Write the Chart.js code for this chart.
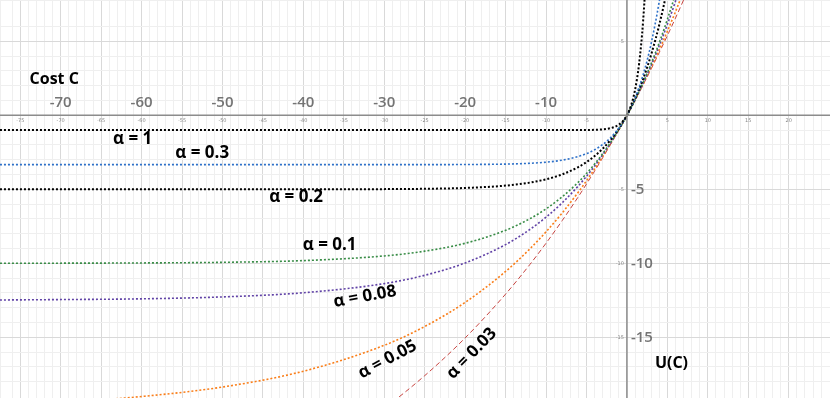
<!DOCTYPE html>
<html>
<head>
<meta charset="utf-8">
<script src="https://cdn.jsdelivr.net/npm/chart.js@4.4.0/dist/chart.umd.min.js"></script>
<style>
  html, body { margin: 0; padding: 0; background: #fff; }
  #wrap { width: 830px; height: 398px; }
</style>
</head>
<body>
<div id="wrap"><canvas id="myChart" width="830" height="398"></canvas></div>
<script>
// cost values (x) shared by every curve
var cost = [-78, -70, -60, -50, -40, -30, -25, -20, -15, -12, -10, -8, -6, -5, -4, -3, -2, -1.5, -1, -0.5, 0, 0.5, 1, 1.5, 2, 2.5, 3, 4, 5, 6, 7, 8];

// U(C) for each alpha
var uAlpha1 = [-1, -1, -1, -1, -1, -1, -1, -1, -1, -1, -1, -1, -0.998, -0.993, -0.982, -0.95, -0.865, -0.777, -0.632, -0.393, 0, 0.649, 1.718, 3.482, 6.389, 11.18, 19.09, null, null, null, null, null];
var uAlpha03 = [-3.333, -3.333, -3.333, -3.333, -3.333, -3.333, -3.332, -3.325, -3.296, -3.242, -3.167, -3.031, -2.782, -2.59, -2.329, -1.978, -1.504, -1.208, -0.864, -0.464, 0, 0.539, 1.166, 1.894, 2.74, 3.723, 4.865, 7.734, 11.61, 16.83, null, null];
var uAlpha02 = [-5, -5, -5, -5, -4.998, -4.988, -4.966, -4.908, -4.751, -4.546, -4.323, -3.991, -3.494, -3.161, -2.753, -2.256, -1.648, -1.296, -0.906, -0.476, 0, 0.526, 1.107, 1.749, 2.459, 3.244, 4.111, 6.128, 8.591, 11.6, null, null];
var uAlpha01 = [-9.996, -9.991, -9.975, -9.933, -9.817, -9.502, -9.179, -8.647, -7.769, -6.988, -6.321, -5.507, -4.512, -3.935, -3.297, -2.592, -1.813, -1.393, -0.952, -0.488, 0, 0.513, 1.052, 1.618, 2.214, 2.84, 3.499, 4.918, 6.487, 8.221, 10.14, null];
var uAlpha008 = [-12.48, -12.45, -12.4, -12.27, -11.99, -11.37, -10.81, -9.976, -8.735, -7.714, -6.884, -5.909, -4.765, -4.121, -3.424, -2.667, -1.849, -1.414, -0.961, -0.49, 0, 0.51, 1.041, 1.594, 2.169, 2.768, 3.39, 4.714, 6.148, 7.701, 9.384, null];
var uAlpha005 = [-19.6, -19.4, -19.0, -18.36, -17.29, -15.54, -14.27, -12.64, -10.55, -9.024, -7.869, -6.594, -5.184, -4.424, -3.625, -2.786, -1.903, -1.445, -0.975, -0.494, 0, 0.506, 1.025, 1.558, 2.103, 2.662, 3.237, 4.428, 5.681, 6.997, 8.382, null];
var uAlpha003 = [-30.12, -29.25, -27.82, -25.9, -23.29, -19.78, -17.59, -15.04, -12.08, -10.08, -8.64, -7.11, -5.49, -4.64, -3.77, -2.87, -1.94, -1.47, -0.99, -0.5, 0, 0.5, 1.02, 1.53, 2.06, 2.6, 3.14, 4.25, 5.39, 6.57, 7.79, 9.04];

// small axis numbers and the big overlaid ones
var xTickSmall = [-75, -70, -65, -60, -55, -50, -45, -40, -35, -30, -25, -20, -15, -10, -5, 5, 10, 15, 20];
var yTickSmall = [5, -5, -10, -15];
var xTickBig = [-70, -60, -50, -40, -30, -20, -10];
var yTickBig = [-5, -10, -15];

var curveLabels = ['α = 1', 'α = 0.3', 'α = 0.2', 'α = 0.1', 'α = 0.08', 'α = 0.05', 'α = 0.03'];

function pts(ys) {
  var out = [];
  for (var i = 0; i < cost.length; i++) {
    if (ys[i] !== null) out.push({ x: cost[i], y: ys[i] });
  }
  return out;
}

function ds(label, ys, color, dash, width) {
  return {
    label: label,
    data: pts(ys),
    borderColor: color,
    borderWidth: width,
    borderDash: dash,
    pointRadius: 0,
    fill: false,
    cubicInterpolationMode: 'monotone'
  };
}

// label placement (in data units) and rotation
var labelPos = [
  { x: -61.1, y: -1.62, rot: 0 },
  { x: -52.5, y: -2.57, rot: 0 },
  { x: -40.9, y: -5.53, rot: 0 },
  { x: -36.75, y: -8.76, rot: 0 },
  { x: -32.4, y: -12.25, rot: -10 },
  { x: -29.6, y: -16.5, rot: -28 },
  { x: -19.2, y: -16.1, rot: -46 }
];

var textPlugin = {
  id: 'textPlugin',
  afterDraw: function (chart) {
    var ctx = chart.ctx;
    var xs = chart.scales.x, ys = chart.scales.y;
    var x0 = xs.getPixelForValue(0), y0 = ys.getPixelForValue(0);
    ctx.save();

    // axes
    ctx.strokeStyle = '#8c8c8c';
    ctx.lineWidth = 1.5;
    ctx.beginPath();
    ctx.moveTo(0, y0); ctx.lineTo(chart.width, y0);
    ctx.moveTo(x0, 0); ctx.lineTo(x0, chart.height);
    ctx.stroke();

    // tiny desmos numbers
    ctx.fillStyle = '#888';
    ctx.font = '5px "DejaVu Sans"';
    ctx.textAlign = 'center';
    ctx.textBaseline = 'top';
    xTickSmall.forEach(function (v) {
      ctx.fillText(String(v), xs.getPixelForValue(v), y0 + 3);
    });
    ctx.textAlign = 'right';
    ctx.textBaseline = 'middle';
    yTickSmall.forEach(function (v) {
      ctx.fillText(String(v), x0 - 3, ys.getPixelForValue(v));
    });

    // big gray numbers
    ctx.fillStyle = '#747474';
    ctx.font = '600 15px "Open Sans"';
    ctx.textAlign = 'center';
    ctx.textBaseline = 'middle';
    xTickBig.forEach(function (v) {
      ctx.fillText(String(v), xs.getPixelForValue(v), ys.getPixelForValue(0.88));
    });
    ctx.textAlign = 'left';
    yTickBig.forEach(function (v) {
      ctx.fillText(String(v), x0 + 4, ys.getPixelForValue(v));
    });

    // axis titles
    ctx.fillStyle = '#000';
    ctx.font = 'bold 16px "Open Sans"';
    ctx.textAlign = 'center';
    ctx.fillText('Cost C', xs.getPixelForValue(-70.8), ys.getPixelForValue(2.39));
    ctx.fillText('U(C)', xs.getPixelForValue(5.5), ys.getPixelForValue(-16.74));

    // curve labels
    ctx.font = 'bold 17px "Open Sans"';
    curveLabels.forEach(function (t, i) {
      var p = labelPos[i];
      ctx.save();
      ctx.translate(xs.getPixelForValue(p.x), ys.getPixelForValue(p.y));
      ctx.rotate(p.rot * Math.PI / 180);
      ctx.fillText(t, 0, 0);
      ctx.restore();
    });
    ctx.restore();
  }
};

function gridColor(c) {
  var v = c.tick ? c.tick.value : 0;
  if (Math.abs(v % 5) < 1e-6) return '#d9d9d9';
  return '#efefef';
}

var ctx = document.getElementById('myChart').getContext('2d');
var myChart = new Chart(ctx, {
  type: 'line',
  data: {
    datasets: [
      ds(curveLabels[0], uAlpha1, '#000000', [2, 2], 2),
      ds(curveLabels[1], uAlpha03, '#2d70c8', [2, 2], 1.6),
      ds(curveLabels[2], uAlpha02, '#000000', [2, 2], 2),
      ds(curveLabels[3], uAlpha01, '#388c46', [2, 2], 1.6),
      ds(curveLabels[4], uAlpha008, '#6042a6', [2, 2], 1.6),
      ds(curveLabels[5], uAlpha005, '#fa7e19', [2, 2], 1.6),
      ds(curveLabels[6], uAlpha003, '#c74440', [5, 3], 1)
    ]
  },
  options: {
    responsive: false,
    animation: false,
    layout: { padding: 0 },
    plugins: { legend: { display: false }, tooltip: { enabled: false } },
    scales: {
      x: {
        type: 'linear',
        min: -77.5,
        max: 25.1,
        ticks: { display: false, stepSize: 1 },
        grid: { color: gridColor, drawTicks: false, lineWidth: 1 },
        border: { display: false },
        afterFit: function (s) { s.height = 0; }
      },
      y: {
        type: 'linear',
        min: -19.1,
        max: 7.79,
        ticks: { display: false, stepSize: 1 },
        grid: { color: gridColor, drawTicks: false, lineWidth: 1 },
        border: { display: false },
        afterFit: function (s) { s.width = 0; }
      }
    }
  },
  plugins: [textPlugin]
});
</script>
</body>
</html>
